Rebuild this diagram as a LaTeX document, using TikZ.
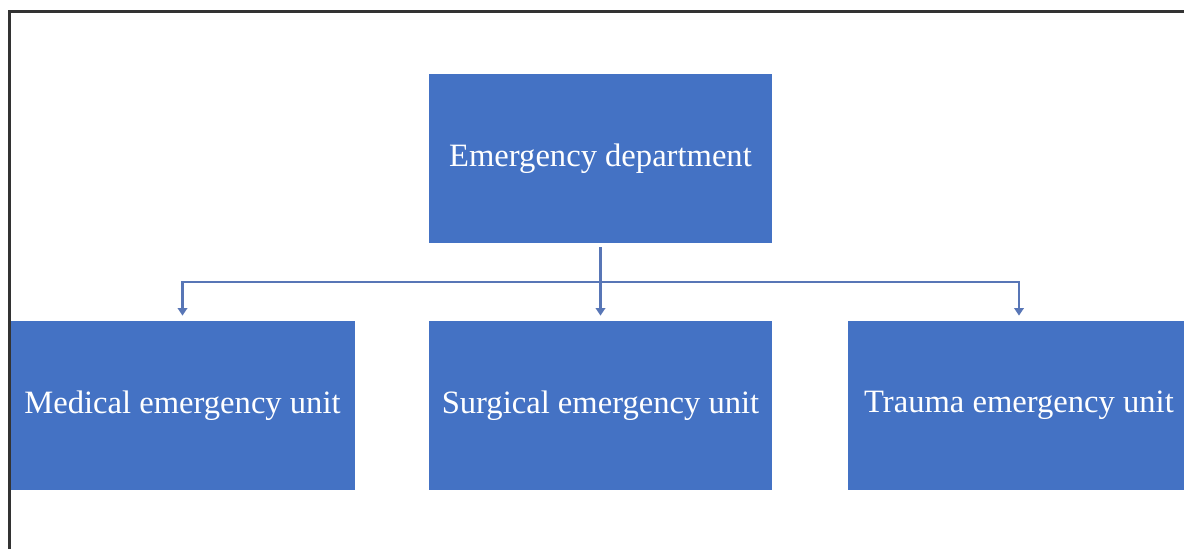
\documentclass[tikz,border=0pt]{standalone}
\usepackage{fontspec}
\setmainfont{Liberation Serif}
\usetikzlibrary{arrows.meta}
\definecolor{boxblue}{HTML}{4472C4}
\definecolor{linkblue}{RGB}{88,118,182}
\definecolor{framegray}{HTML}{333333}
\tikzset{
  unit/.style={fill=boxblue, draw=none, minimum width=171.5pt, minimum height=84.5pt, inner sep=0pt,
    text=white, font=\fontsize{16.3}{19}\selectfont},
  conn/.style={draw=linkblue, line width=1.1pt, -{Triangle[width=4.8pt,length=3.8pt]}, shorten >=2.5pt},
}
\begin{document}
\begin{tikzpicture}[x=0.5pt, y=-0.5pt]
\useasboundingbox (0,0) rectangle (1184,548);
\clip (0,0) rectangle (1184,548);
\draw[framegray, line width=1.2pt] (9.5,560) -- (9.5,11.5) -- (1200,11.5);
\node[unit] (top) at (600.5,158.5) {\raisebox{-1.5pt}{Emergency department}};
\node[unit, minimum width=172pt] (med) at (182.5,405.5) {Medical emergency unit};
\node[unit] (sur) at (600.5,405.5) {Surgical emergency unit};
\node[unit] (tra) at (1019,405.5) {Trauma emergency unit};
\coordinate (hl) at (600.5,282);
\draw[conn, shorten <=2pt] (top.south) -- (sur.north);
\draw[conn] (hl) -| (med.north);
\draw[conn] (hl) -| (tra.north);
\end{tikzpicture}
\end{document}
